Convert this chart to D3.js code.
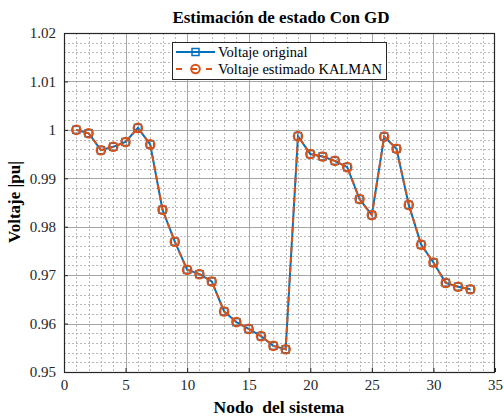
<!DOCTYPE html>
<html><head><meta charset="utf-8">
<script src="https://cdn.jsdelivr.net/npm/d3@7"></script>
<style>body{margin:0;background:#fff}svg{display:block}
svg text{font-family:"Liberation Serif","DejaVu Serif",serif;}</style>
</head><body>
<svg id="c" width="504" height="416"></svg>
<script>
const nodes = d3.range(1, 34);
const vOriginal = [1.0000,0.9993,0.9958,0.9965,0.9975,1.0004,0.9970,0.9835,0.9769,0.9711,
  0.9702,0.9687,0.9625,0.9603,0.9589,0.9574,0.9554,0.9547,0.9987,0.9950,
  0.9945,0.9936,0.9923,0.9857,0.9824,0.9986,0.9961,0.9845,0.9763,0.9726,
  0.9684,0.9676,0.9671];
const vKalman = [1.0000,0.9993,0.9958,0.9965,0.9975,1.0004,0.9970,0.9835,0.9769,0.9711,
  0.9702,0.9687,0.9625,0.9603,0.9589,0.9574,0.9554,0.9547,0.9987,0.9950,
  0.9945,0.9936,0.9923,0.9857,0.9824,0.9986,0.9961,0.9845,0.9763,0.9726,
  0.9684,0.9676,0.9671];
const xTicks = [0,5,10,15,20,25,30,35];
const yTicks = [0.95,0.96,0.97,0.98,0.99,1.00,1.01,1.02];
const yTickLabels = ["0.95","0.96","0.97","0.98","0.99","1","1.01","1.02"];
const seriesNames = ["Voltaje original","Voltaje estimado KALMAN"];

const L=64,R=495,T=33,B=372;
const svg=d3.select("#c");
const x=d3.scaleLinear().domain([0,35]).range([L,R]);
const y=d3.scaleLinear().domain([0.95,1.02]).range([B,T]);
const blue="#0072BD", orange="#D95319";

// minor grid
const g=svg.append("g");
g.selectAll(".mx").data(d3.range(0,36,1).filter(v=>v%5!==0)).join("line")
 .attr("x1",d=>Math.round(x(d))+0.5).attr("x2",d=>Math.round(x(d))+0.5).attr("y1",T).attr("y2",B)
 .attr("stroke","#b8b8b8").attr("stroke-width",1).attr("stroke-dasharray","2,2");
g.selectAll(".my").data(d3.range(0,36).map(i=>0.95+i*0.002).filter((v,i)=>i%5!==0))
 .join("line").attr("x1",L).attr("x2",R).attr("y1",d=>Math.round(y(d))+0.5).attr("y2",d=>Math.round(y(d))+0.5)
 .attr("stroke","#b8b8b8").attr("stroke-width",1).attr("stroke-dasharray","2,2");
// major grid
g.selectAll(".gx").data(xTicks.slice(1,-1)).join("line")
 .attr("x1",d=>Math.round(x(d))+0.5).attr("x2",d=>Math.round(x(d))+0.5).attr("y1",T).attr("y2",B)
 .attr("stroke","#a6a6a6").attr("stroke-width",1);
g.selectAll(".gy").data(yTicks.slice(1,-1)).join("line")
 .attr("x1",L).attr("x2",R).attr("y1",d=>Math.round(y(d))+0.5).attr("y2",d=>Math.round(y(d))+0.5)
 .attr("stroke","#a6a6a6").attr("stroke-width",1);

// axes
const xa=svg.append("g").attr("transform",`translate(0,${B})`)
 .call(d3.axisBottom(x).tickValues(xTicks).tickSize(-4).tickPadding(7).tickFormat(d3.format("d")));
const ya=svg.append("g").attr("transform",`translate(${L},0)`)
 .call(d3.axisLeft(y).tickValues(yTicks).tickSize(-4).tickPadding(8).tickFormat((d,i)=>yTickLabels[i]));
[xa,ya].forEach(a=>{a.select(".domain").remove();
 a.selectAll("line").attr("stroke","#262626");
 a.selectAll("text").attr("font-family",null).attr("font-size",15).attr("fill","#262626");});
svg.append("rect").attr("x",L+0.5).attr("y",T+0.5).attr("width",R-L-1).attr("height",B-T)
 .attr("fill","none").attr("stroke","#262626").attr("stroke-width",1.2);

// lines
const line=d3.line().x((d,i)=>x(nodes[i])).y(d=>y(d));
svg.append("path").datum(vOriginal).attr("d",line).attr("fill","none").attr("stroke",blue).attr("stroke-width",2);
svg.selectAll(".sq").data(vOriginal).join("rect")
 .attr("x",(d,i)=>x(nodes[i])-3.5).attr("y",d=>y(d)-3.5).attr("width",7).attr("height",7)
 .attr("fill","none").attr("stroke",blue).attr("stroke-width",1.5);
svg.append("path").datum(vKalman).attr("d",line).attr("fill","none").attr("stroke",orange)
 .attr("stroke-width",2).attr("stroke-dasharray","6,4");
svg.selectAll(".ci").data(vKalman).join("circle")
 .attr("cx",(d,i)=>x(nodes[i])).attr("cy",d=>y(d)).attr("r",4.3)
 .attr("fill","none").attr("stroke",orange).attr("stroke-width",2);

// legend
const lg=svg.append("g");
lg.append("rect").attr("x",172.5).attr("y",42.5).attr("width",214).attr("height",37)
 .attr("fill","#fff").attr("stroke","#262626").attr("stroke-width",1);
lg.append("line").attr("x1",176).attr("x2",215).attr("y1",52).attr("y2",52).attr("stroke",blue).attr("stroke-width",2);
lg.append("rect").attr("x",192).attr("y",48.5).attr("width",7).attr("height",7).attr("fill","none").attr("stroke",blue).attr("stroke-width",1.5);
lg.append("line").attr("x1",176).attr("x2",215).attr("y1",69).attr("y2",69).attr("stroke",orange).attr("stroke-width",2).attr("stroke-dasharray","6,9");
lg.append("circle").attr("cx",195.5).attr("cy",69).attr("r",4.3).attr("fill","none").attr("stroke",orange).attr("stroke-width",2);
lg.selectAll("text").data(seriesNames).join("text")
 .attr("x",218).attr("y",(d,i)=>56.5+i*17).text(d=>d)
 .attr("font-size",14.5).attr("fill","#000");

// titles
svg.append("text").attr("x",281).attr("y",23).attr("text-anchor","middle")
 .attr("font-weight","bold").attr("font-size",17).text("Estimación de estado Con GD");
svg.append("text").attr("x",279).attr("y",413).attr("text-anchor","middle")
 .attr("font-weight","bold").attr("font-size",17.5).attr("xml:space","preserve").text("Nodo  del sistema");
svg.append("text").attr("transform","translate(20,202) rotate(-90)").attr("text-anchor","middle")
 .attr("font-weight","bold").attr("font-size",17).text("Voltaje |pu|");
</script>
</body></html>
